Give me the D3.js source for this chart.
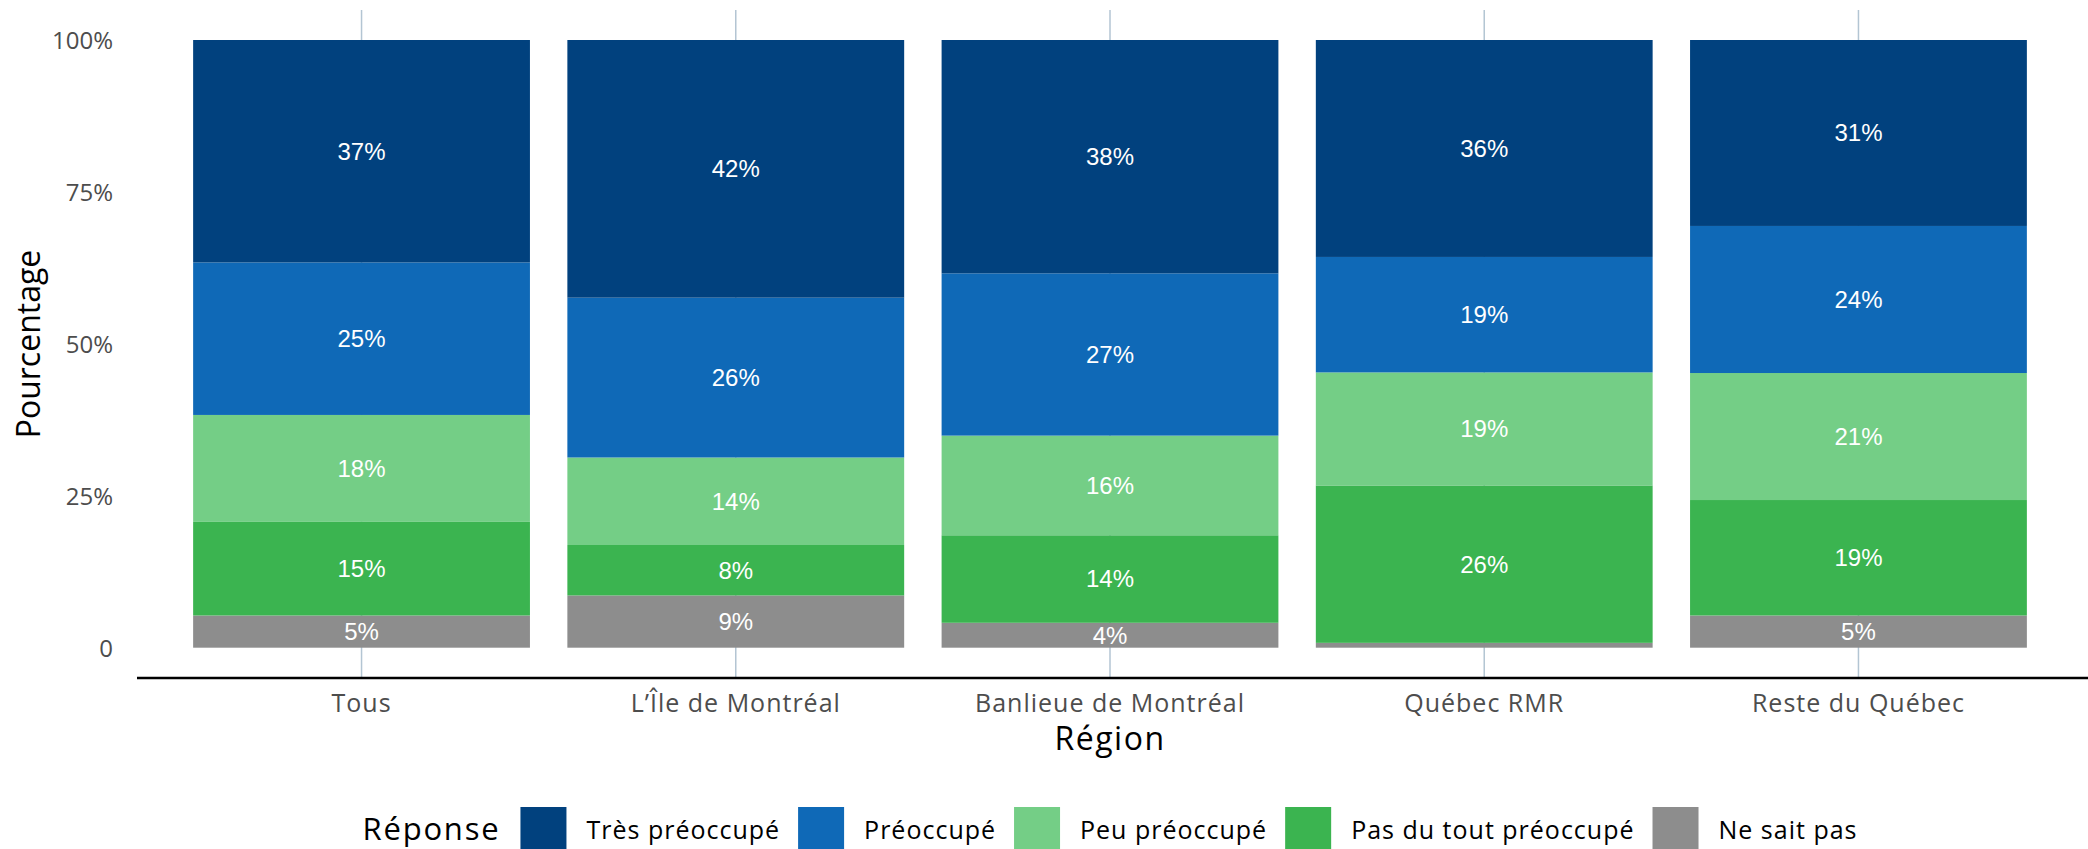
<!DOCTYPE html>
<html>
<head>
<meta charset="utf-8">
<script src="https://cdn.jsdelivr.net/npm/d3@7"></script>
<style>
  html, body { margin: 0; padding: 0; background: #fff; }
  svg { display: block; }
</style>
</head>
<body>
<svg id="chart" width="2088" height="849"></svg>
<script>
// ---- data ----
const regions = ["Tous", "L’Île de Montréal", "Banlieue de Montréal", "Québec RMR", "Reste du Québec"];
const responses = ["Très préoccupé", "Préoccupé", "Peu préoccupé", "Pas du tout préoccupé", "Ne sait pas"];
const tresPreoccupe   = [36.6, 42.4, 38.4, 35.7, 30.6];
const preoccupe       = [25.1, 26.3, 26.7, 19.0, 24.2];
const peuPreoccupe    = [17.6, 14.4, 16.4, 18.6, 20.9];
const pasDuTout       = [15.4,  8.3, 14.4, 25.9, 19.0];
const neSaitPas       = [ 5.3,  8.6,  4.1,  0.8,  5.3];
const yTicks = [0, 25, 50, 75, 100];
const colors = ["#01417E", "#0F69B7", "#74CE86", "#3BB450", "#8D8D8D"];

const seriesByResponse = {
  "Très préoccupé": tresPreoccupe,
  "Préoccupé": preoccupe,
  "Peu préoccupé": peuPreoccupe,
  "Pas du tout préoccupé": pasDuTout,
  "Ne sait pas": neSaitPas
};
const table = regions.map((r, i) => {
  const row = { region: r };
  responses.forEach(k => row[k] = seriesByResponse[k][i]);
  return row;
});

// ---- layout ----
const svg = d3.select("#chart");
const panel = { left: 137, right: 2083, top: 10, bottom: 678 };
const tickFont = "'Open Sans', sans-serif";

const x = d3.scaleBand().domain(regions)
  .range([panel.left, panel.right]).paddingInner(0.1).paddingOuter(0.15);
const y = d3.scaleLinear().domain([0, 100]).range([647.7, 40]);
const color = d3.scaleOrdinal().domain(responses).range(colors);

// vertical grid lines
svg.append("g").selectAll("line").data(regions).join("line")
  .attr("x1", d => x(d) + x.bandwidth() / 2).attr("x2", d => x(d) + x.bandwidth() / 2)
  .attr("y1", panel.top).attr("y2", panel.bottom)
  .attr("stroke", "#B3C5D3").attr("stroke-width", 1.5);

// stacked bars (bottom = Ne sait pas)
const stackKeys = responses.slice().reverse();
const stacked = d3.stack().keys(stackKeys)(table);

const layers = svg.append("g").selectAll("g").data(stacked).join("g")
  .attr("fill", d => color(d.key));
layers.selectAll("rect").data(d => d).join("rect")
  .attr("x", d => x(d.data.region))
  .attr("width", x.bandwidth())
  .attr("y", d => y(d[1]))
  .attr("height", d => y(d[0]) - y(d[1]));

// labels in segments
const labelData = [];
stacked.forEach(s => s.forEach(d => {
  const v = d[1] - d[0];
  if (v >= 2) labelData.push({ region: d.data.region, mid: (d[0] + d[1]) / 2, v });
}));
svg.append("g").selectAll("text").data(labelData).join("text")
  .attr("x", d => x(d.region) + x.bandwidth() / 2)
  .attr("y", d => y(d.mid))
  .attr("dy", "0.35em")
  .attr("text-anchor", "middle")
  .attr("fill", "#fff")
  .style("font-family", "'Liberation Sans', Arial, sans-serif")
  .style("font-size", "24px")
  .text(d => Math.round(d.v) + "%");

// y axis
const yAxis = svg.append("g").attr("transform", `translate(${panel.left - 24},0)`)
  .call(d3.axisLeft(y).tickValues(yTicks).tickSize(0).tickPadding(0)
    .tickFormat(d => d === 0 ? "0" : d + "%"));
yAxis.select(".domain").remove();
yAxis.selectAll("text").style("font-family", tickFont).style("font-size", "24px")
  .attr("fill", "#4D4D4D").attr("dy", "0.35em");

// x axis
const xAxis = svg.append("g").attr("transform", `translate(0,${panel.bottom})`)
  .call(d3.axisBottom(x).tickSize(0).tickPadding(16));
xAxis.select(".domain").remove();
xAxis.selectAll("text").style("font-family", tickFont).style("font-size", "25px")
  .style("letter-spacing", "1px").attr("fill", "#4D4D4D");
svg.append("line")
  .attr("x1", panel.left).attr("x2", 2088)
  .attr("y1", panel.bottom).attr("y2", panel.bottom)
  .attr("stroke", "#000").attr("stroke-width", 2.5);

// axis titles
svg.append("text")
  .attr("x", (panel.left + panel.right) / 2).attr("y", 750)
  .attr("text-anchor", "middle")
  .style("font-family", tickFont).style("font-size", "32px")
  .style("letter-spacing", "1.5px").attr("fill", "#000")
  .text("Région");
svg.append("text")
  .attr("transform", `translate(40,${(panel.top + panel.bottom) / 2}) rotate(-90)`)
  .attr("text-anchor", "middle")
  .style("font-family", tickFont).style("font-size", "32px").attr("fill", "#000")
  .text("Pourcentage");

// legend
const legend = svg.append("g");
const title = legend.append("text").attr("x", 0).attr("y", 829).attr("dy", "0.35em")
  .style("font-family", tickFont).style("font-size", "31px")
  .style("letter-spacing", "1.8px").attr("fill", "#000")
  .text("Réponse");
let cx = title.node().getComputedTextLength() + 20;
responses.forEach(r => {
  legend.append("rect").attr("x", cx).attr("y", 807).attr("width", 46).attr("height", 46)
    .attr("fill", color(r));
  cx += 46 + 20;
  const t = legend.append("text").attr("x", cx).attr("y", 830).attr("dy", "0.35em")
    .style("font-family", tickFont).style("font-size", "25px")
    .style("letter-spacing", "1px").attr("fill", "#000")
    .text(r);
  cx += t.node().getComputedTextLength() + 18;
});
const legendWidth = cx - 18;
legend.attr("transform", `translate(${(panel.left + panel.right) / 2 - legendWidth / 2},0)`);
</script>
</body>
</html>
